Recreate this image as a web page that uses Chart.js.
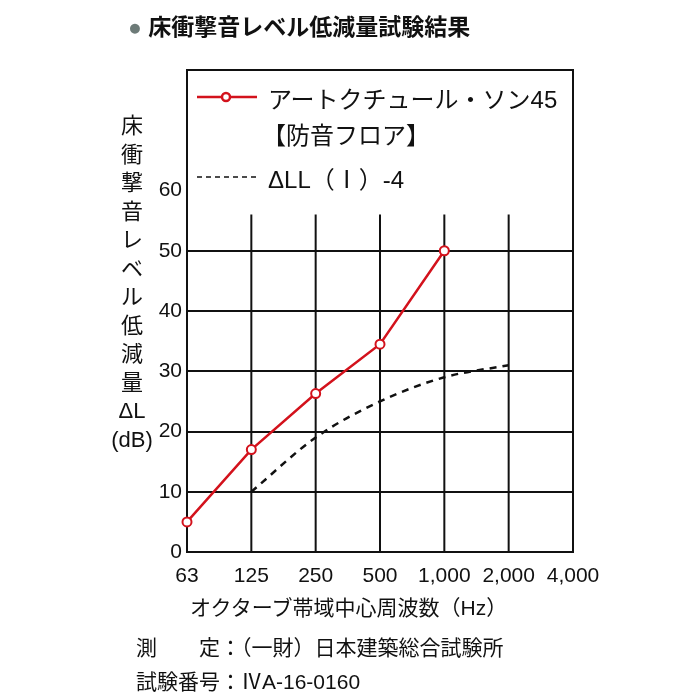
<!DOCTYPE html>
<html><head><meta charset="utf-8">
<script src="https://cdn.jsdelivr.net/npm/chart.js@4"></script>
<style>
body{margin:0;background:#fff;font-family:"Liberation Sans","Noto Sans CJK JP",sans-serif;}
#wrap{position:relative;width:700px;height:700px;}
canvas{position:absolute;left:0;top:0;}
.t{position:absolute;color:#111;white-space:nowrap;font-family:"Liberation Sans","Noto Sans CJK JP",sans-serif;}
</style></head><body>
<div id="wrap">
<canvas id="c" width="700" height="700"></canvas>
<div class="t" style="left:128px;top:8px;font-size:23px;font-weight:bold;"><span style="color:#6d7b78">●</span> 床衝撃音レベル低減量試験結果</div>
<div class="t" style="left:111px;top:112px;font-size:22px;line-height:28.5px;text-align:center;width:42px;">床<br>衝<br>撃<br>音<br>レ<br>ベ<br>ル<br>低<br>減<br>量<br>ΔL<br>(dB)</div>
<div class="t" style="left:268px;top:80px;font-size:24px;">アートクチュール・ソン45</div>
<div class="t" style="left:262px;top:116px;font-size:24px;">【防音フロア】</div>
<div class="t" style="left:268px;top:160px;font-size:24px;">ΔLL（Ⅰ）-4</div>
<div class="t" style="left:190px;top:591px;font-size:21px;">オクターブ帯域中心周波数（Hz）</div>
<div class="t" style="left:136px;top:631px;font-size:21px;">測　　定：（一財）日本建築総合試験所</div>
<div class="t" style="left:136px;top:665px;font-size:21px;">試験番号：ⅣA-16-0160</div>
</div>
<script>
const categories=["63","125","250","500","1,000","2,000","4,000"];
const productValues=[5,17,26.3,34.5,50,null,null];
const standardValues=[null,10,19,25,29,31,null];
const yTicks=[0,10,20,30,40,50,60];
const red="#d3121c";
const framePlugin={id:"frame",
 beforeDatasetsDraw(ch){const c=ch.ctx,a=ch.chartArea,x=ch.scales.x,y=ch.scales.y;
  c.save();c.strokeStyle="#111";c.lineWidth=2;
  for(let i=1;i<categories.length-1;i++){const px=x.getPixelForValue(i);c.beginPath();c.moveTo(px,y.getPixelForValue(56));c.lineTo(px,a.bottom);c.stroke();}
  c.strokeRect(a.left,a.top,a.right-a.left,a.bottom-a.top);
  c.strokeStyle=red;c.lineWidth=2.5;c.beginPath();c.moveTo(197,97);c.lineTo(257,97);c.stroke();
  c.fillStyle="#fff";c.beginPath();c.arc(226,97,4,0,Math.PI*2);c.fill();c.stroke();
  c.strokeStyle="#111";c.lineWidth=1.5;c.setLineDash([5,4]);c.beginPath();c.moveTo(197,177);c.lineTo(257,177);c.stroke();
  c.restore();}};
new Chart(document.getElementById("c"),{type:"line",
 data:{labels:categories,datasets:[
  {data:productValues,borderColor:red,borderWidth:2.5,pointRadius:4.5,pointBorderWidth:2,pointBackgroundColor:"#fff",pointBorderColor:red,tension:0},
  {data:standardValues,borderColor:"#111",borderWidth:2.5,borderDash:[7,6],pointRadius:0,tension:0.4,cubicInterpolationMode:"monotone"}]},
 options:{responsive:false,animation:false,
  layout:{padding:{left:0,right:127,top:70,bottom:0}},
  plugins:{legend:{display:false},tooltip:{enabled:false}},
  scales:{
   x:{offset:false,grid:{display:false},border:{display:false},
      ticks:{color:"#111",font:{size:21,family:"Liberation Sans"},maxRotation:0,autoSkip:false,padding:4},
      afterFit(s){s.height=148;}},
   y:{min:0,max:80,afterBuildTicks(s){s.ticks=yTicks.map(v=>({value:v}));},
      grid:{color:c=>(c.tick.value>0&&c.tick.value<=50)?"#111":"rgba(0,0,0,0)",lineWidth:2,drawTicks:false},
      border:{display:false},
      ticks:{color:"#111",font:{size:21,family:"Liberation Sans"},padding:5},
      afterFit(s){s.width=187;}}
  }},plugins:[framePlugin]});
</script></body></html>
